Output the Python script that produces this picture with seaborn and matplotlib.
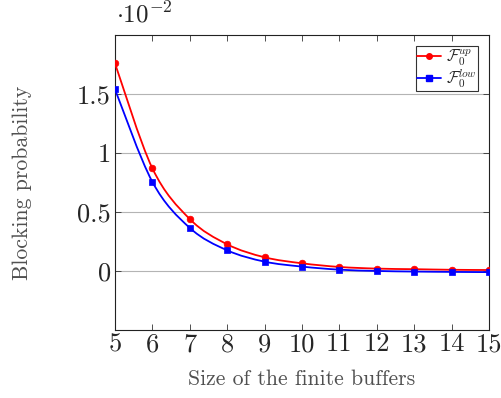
import numpy as np
import matplotlib
matplotlib.use("Agg")
import matplotlib.pyplot as plt
from matplotlib.path import Path
from matplotlib.patches import PathPatch
from matplotlib.lines import Line2D
import seaborn as sns

sns.set_theme(style="white")
plt.rcParams["font.family"] = ["cmr10", "DejaVu Serif"]
plt.rcParams["mathtext.fontset"] = "cm"
plt.rcParams["axes.unicode_minus"] = False

buffers = [5, 6, 7, 8, 9, 10, 11, 12, 13, 14, 15]
f_up = [1.76, 0.87, 0.44, 0.226, 0.116, 0.065, 0.034, 0.02, 0.015, 0.01, 0.008]
f_low = [1.54, 0.755, 0.365, 0.175, 0.079, 0.037, 0.011, 0.0, -0.005, -0.008, -0.01]
y_ticks = [0, 0.5, 1, 1.5]
y_tick_labels = ["0", "0.5", "1", "1.5"]


def smooth_path(xs, ys):
    # cubic bezier through the points (like pgfplots "smooth")
    p = np.column_stack([xs, ys]).astype(float)
    verts = [p[0]]
    codes = [Path.MOVETO]
    n = len(p)
    for i in range(n - 1):
        prev = p[i - 1] if i > 0 else p[i]
        nxt = p[i + 2] if i + 2 < n else p[i + 1]
        c1 = p[i] + (p[i + 1] - prev) / 6.0
        c2 = p[i + 1] - (nxt - p[i]) / 6.0
        verts += [c1, c2, p[i + 1]]
        codes += [Path.CURVE4] * 3
    return Path(verts, codes)


fig = plt.figure(figsize=(5.01, 3.98), dpi=100)
ax = fig.add_axes([0.2295, 0.171, 0.7465, 0.741])

series = [
    (f_up, "red", "o", 4.8, r"$\mathcal{F}_0^{up}$"),
    (f_low, "blue", "s", 4.6, r"$\mathcal{F}_0^{low}$"),
]
handles = []
for vals, col, mk, ms, lab in series:
    ax.add_patch(PathPatch(smooth_path(buffers, vals), facecolor="none",
                           edgecolor=col, lw=1.3, zorder=3))
    sns.scatterplot(x=buffers, y=vals, ax=ax, color=col, marker=mk,
                    s=ms ** 2, edgecolor=col, linewidth=0.5, zorder=4)
    handles.append(Line2D([], [], color=col, marker=mk, markersize=ms - 0.8,
                          lw=1.3, label=lab))

ax.set_xlim(5, 15)
ax.set_ylim(-0.5, 2.0)
ax.set_xticks(buffers)
ax.set_xticklabels([str(b) for b in buffers])
ax.set_yticks(y_ticks)
ax.set_yticklabels(y_tick_labels)
ax.tick_params(direction="in", length=4, width=0.6, color="#333333",
               labelsize=19, top=True, right=True, bottom=True, left=True,
               pad=3)
ax.tick_params(axis="x", pad=2)
ax.yaxis.grid(True, color="#b4b4b4", lw=0.8)
ax.xaxis.grid(False)
for s in ax.spines.values():
    s.set_color("#222222")
    s.set_linewidth(0.8)

ax.set_xlabel("Size of the finite buffers", fontsize=15.7, color="#505050")
ax.set_ylabel("Blocking probability", fontsize=15.7, color="#505050",
              va="center")
ax.xaxis.set_label_coords(0.5, -0.135)
ax.yaxis.set_label_coords(-0.249, 0.5)

fig.text(0.232, 0.93, r"$\cdot 10^{-2}$", fontsize=18, ha="left",
         va="bottom")

leg = ax.legend(handles=handles, loc="upper right", fontsize=11.5,
                frameon=True, fancybox=False, edgecolor="black",
                handlelength=1.5, handletextpad=0.35, borderpad=0.05,
                labelspacing=0.0, borderaxespad=0.7)
leg.get_frame().set_linewidth(0.8)

fig.savefig("out.png", dpi=100)
